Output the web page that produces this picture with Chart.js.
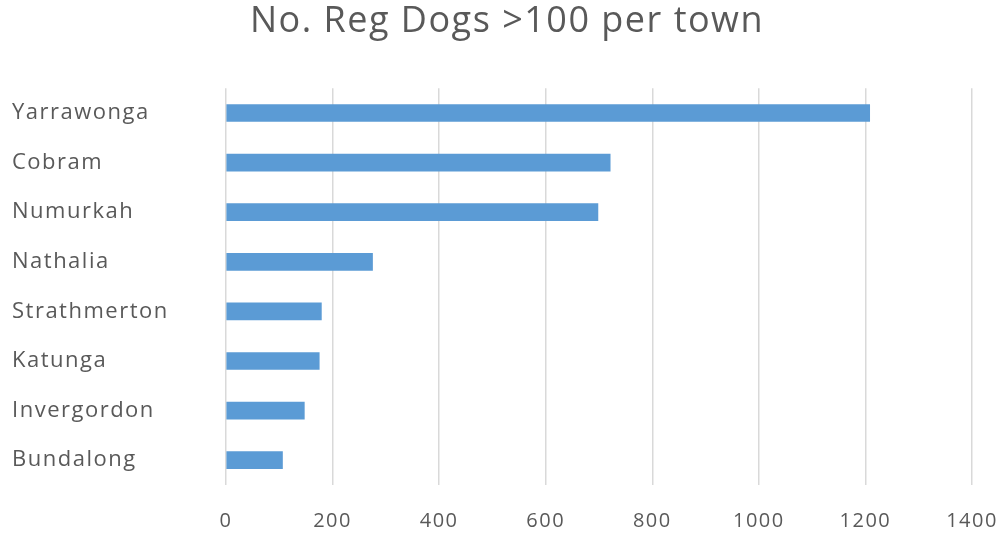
<!DOCTYPE html>
<html>
<head>
<meta charset="utf-8">
<script src="https://cdn.jsdelivr.net/npm/chart.js@4/dist/chart.umd.min.js"></script>
<style>
  html, body { margin: 0; padding: 0; background: #fff; }
  #wrap { width: 1002px; height: 533px; }
</style>
</head>
<body>
<div id="wrap"><canvas id="dogs"></canvas></div>
<script>
const towns = ['Yarrawonga', 'Cobram', 'Numurkah', 'Nathalia', 'Strathmerton', 'Katunga', 'Invergordon', 'Bundalong'];
const regDogs = [1208, 721, 698, 275, 179, 175, 147, 106];
const xTicks = [0, 200, 400, 600, 800, 1000, 1200, 1400];

const grey = '#595959';

const data = {
  labels: towns,
  datasets: [{
    label: 'No. Reg Dogs',
    data: regDogs,
    backgroundColor: '#5b9bd5',
    barThickness: 17
  }]
};

// Excel text is spaced out wider than the canvas default
const spacing = {
  id: 'spacing',
  beforeInit: chart => { chart.ctx.letterSpacing = '1.5px'; },
  beforeDraw: chart => { chart.ctx.letterSpacing = '1.5px'; }
};

const config = {
  type: 'bar',
  data: data,
  plugins: [spacing],
  options: {
    indexAxis: 'y',
    responsive: true,
    maintainAspectRatio: false,
    animation: false,
    layout: { padding: { left: 12, right: 0, top: 0, bottom: 0 } },
    plugins: {
      legend: { display: false },
      tooltip: { enabled: false },
      title: {
        display: true,
        text: 'No. Reg Dogs >100 per town',
        color: grey,
        font: { family: 'Open Sans', size: 36, weight: 'normal' },
        padding: { top: 0, bottom: 45 }
      }
    },
    scales: {
      x: {
        min: xTicks[0],
        max: xTicks[xTicks.length - 1],
        afterBuildTicks: axis => { axis.ticks = xTicks.map(v => ({ value: v })); },
        afterFit: scale => {
          scale.height = 48;
          scale.paddingLeft = 0;
          scale.paddingRight = 30;
        },
        grid: { color: '#d9d9d9', lineWidth: 1.5, drawTicks: false },
        border: { display: false },
        ticks: {
          color: grey,
          padding: 24,
          font: { family: 'Open Sans', size: 20 },
          callback: v => String(v)
        }
      },
      y: {
        grid: { display: false, drawTicks: false },
        border: { display: false },
        afterFit: scale => { scale.width = 214; },
        ticks: {
          crossAlign: 'far',
          color: grey,
          font: { family: 'Open Sans', size: 22 }
        }
      }
    }
  }
};

//draw it
new Chart(document.getElementById('dogs'), config);
</script>
</body>
</html>
